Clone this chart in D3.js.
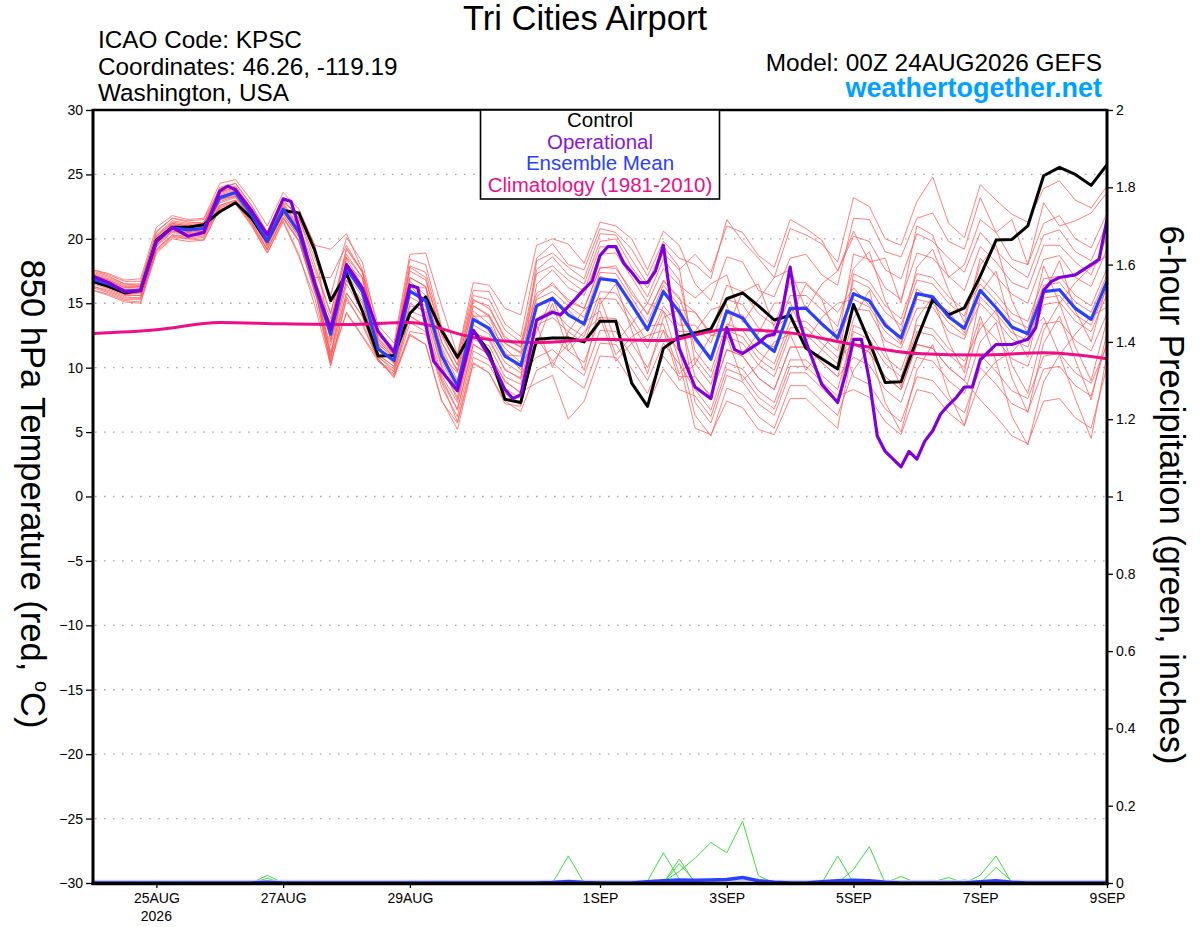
<!DOCTYPE html>
<html>
<head>
<meta charset="utf-8">
<script src="https://d3js.org/d3.v7.min.js"></script>
<style>
  body { margin: 0; background: #fff; }
  svg { display: block; }
  text { font-family: "Liberation Sans", Arial, Helvetica, sans-serif; }
</style>
</head>
<body>
<svg id="chart" width="1200" height="927"></svg>
<script>
// ---- time axis: 6-hourly steps from 00Z 24AUG2026 to 00Z 9SEP2026 (hours since start)
const hours = d3.range(0, 385, 6);
const climHours = d3.range(0, 385, 24);
const tickHours = [24, 72, 120, 192, 240, 288, 336, 384];
const tickLabels = ["25AUG", "27AUG", "29AUG", "1SEP", "3SEP", "5SEP", "7SEP", "9SEP"];
const tempTicks = [-30, -25, -20, -15, -10, -5, 0, 5, 10, 15, 20, 25, 30];
const gridTemps = [-25, -20, -15, -10, -5, 0, 5, 10, 15, 20, 25];
const precipTicks = [0, 0.2, 0.4, 0.6, 0.8, 1, 1.2, 1.4, 1.6, 1.8, 2];

// ---- 850 hPa temperature, deg C
const control = [16.7,16.3,15.8,16.0,19.9,20.9,20.9,21.1,22.1,22.8,
  21.6,19.8,22.2,22.0,19.1,15.2,17.3,14.4,10.9,10.95,
  14.2,15.5,12.9,10.8,12.9,11.2,7.55,7.3,12.2,12.3,
  12.3,12.0,13.6,13.6,8.8,7.0,11.5,12.4,12.7,13.0,
  15.35,15.8,14.8,13.7,14.05,11.5,10.7,9.9,14.9,12.0,
  8.85,8.9,12.2,15.3,14.1,14.65,17.1,19.9,19.95,21.0,
  24.9,25.55,25.0,24.15,25.75];

const ensMean = [16.85,16.5,15.95,16.0,19.8,20.86,20.7,20.8,23.2,23.6,
  21.9,19.8,22.3,20.5,16.5,12.6,17.7,15.9,11.45,10.55,
  15.95,15.2,10.95,8.6,13.75,13.05,10.9,10.15,14.8,15.4,
  14.1,13.4,16.9,16.75,14.9,12.95,15.9,14.35,12.3,10.65,
  14.4,13.85,12.2,11.25,14.6,14.6,13.4,12.3,15.75,15.2,
  13.3,12.3,15.75,15.5,13.95,13.05,16.0,14.65,13.15,12.63,
  15.9,16.05,14.6,13.75,16.7];

// operational run has 3-hourly output in places
const opHours = [0,6,12,18,24,30,36,42,48,51, 54,60,66,72,75,78,84,90,96,102,
  108,114,120,123,129,138,144,150,156,159, 162,168,174,177,183,186,189,192,195,198,
  201,204,207,210,213,216,219,222,225,228, 234,240,243,246,249,252,255,258,261,264,
  267,270,276,282,285,288,291,294,297,300, 306,309,312,315,318,321,324,327,330,333,
  336,342,348,354,357,360,363,366,372,378, 381,384];
const opTemps = [17.1,16.6,15.9,15.95,19.8,20.9,20.2,20.5,23.7,24.1, 23.8,22.2,20.3,23.1,22.9,20.9,16.5,13.0,18.0,16.2,
  12.8,11.2,16.4,16.2,10.5,8.2,12.9,10.9,8.3,7.6, 7.9,13.7,14.3,14.1,15.4,16.1,16.7,18.7,19.4,19.4,
  18.1,17.4,16.6,16.6,17.5,19.5,15.0,11.5,10.0,8.5, 7.6,13.1,11.4,11.1,11.5,11.9,12.45,12.6,14.4,17.8,
  14.0,12.0,8.7,7.3,9.5,12.2,12.2,9.0,4.7,3.5, 2.3,3.5,2.9,4.3,5.1,6.4,7.1,7.7,8.5,8.5,
  10.6,11.8,11.8,12.2,13.1,16.0,16.7,17.0,17.2,18.0, 18.4,21.5];

// climatology (1981-2010), daily at 00Z
const climatology = [12.65,12.95,13.5,13.4,13.35,13.5,12.35,11.95,12.2,12.1,12.97,12.7,11.8,11.1,10.98,11.16,10.7];

// ensemble members (thin red lines)
const ensMembers = [
  [17.5,17.1,16.5,16.4,20.6,21.6,21.3,21.2,24.0,24.3,22.6,20.5,23.0,21.6,18.5, 15.6,20.1,18.2,12.8,11.5,18.4,18.0,13.2,10.9,16.0,15.9,13.4,12.4, 18.5,19.6,18.0,17.6,20.8,20.5,19.2,17.1,19.8,18.5, 18.0,16.9,21.5,19.8,18.5,17.0,20.8,20.3,19.6,18.2, 23.2,22.5,20.0,19.5,22.9,24.8,21.2,20.1, 24.2,23.0,21.9,21.3,23.9,24.5,23.0,22.4,24.1],
  [17.2,16.8,16.2,16.3,20.2,21.2,21.0,21.1,23.6,24.0,22.3,20.3,22.8,22.0,19.5, 19.2,20.4,17.6,13.3,11.9,18.8,18.9,14.8,11.0,16.6,16.4,14.6,14.1, 19.5,20.0,19.6,18.1,21.3,21.0,20.0,17.6,20.6,19.5, 16.5,15.2,18.6,18.2,16.0,15.5,18.5,18.8,17.2,16.4, 21.6,21.5,19.0,18.6,21.6,22.0,19.8,19.2, 23.2,20.5,21.5,18.0,22.8,21.0,21.4,22.0,23.6],
  [16.6,16.3,15.7,15.8,19.5,20.6,20.5,20.6,23.1,23.3,21.6,19.5,22.0,20.6,17.0, 17.0,19.5,17.4,12.3,11.1,17.8,17.0,12.6,10.2,15.2,14.8,12.2,11.6, 17.6,18.6,17.2,16.5,19.8,20.0,17.8,16.2,18.9,17.6, 18.8,17.4,21.0,20.5,18.7,17.8,21.5,20.8,19.9,17.5, 20.6,18.2,18.5,15.0,21.0,20.3,17.0,18.0, 21.5,20.5,18.4,18.0,21.2,21.8,20.0,19.3,22.0],
  [17.6,17.3,16.8,16.9,20.9,21.8,21.5,21.6,24.3,24.6,23.0,21.0,23.6,22.3,19.5, 12.0,16.8,15.2,11.0,10.1,14.8,14.5,10.2,7.5,12.6,12.3,9.8,9.2, 16.5,17.6,16.2,15.6,18.8,18.9,17.0,15.0,17.7,16.4, 15.4,16.5,17.2,13.5,15.3,17.0,17.6,14.5,16.5,17.5, 20.2,19.8,17.6,16.9,20.4,19.8,18.5,17.4, 20.5,19.1,17.8,17.0,20.3,20.7,19.0,18.3,21.2],
  [16.3,16.0,15.5,15.4,19.2,20.3,20.2,20.3,22.6,23.0,21.3,19.2,21.6,19.8,15.8, 13.5,19.2,17.4,12.5,11.3,17.9,17.4,13.0,10.6,15.6,15.3,12.9,12.0, 15.8,16.4,15.3,14.6,17.8,17.7,16.0,14.1,16.8,15.3, 14.3,12.5,13.0,15.9,16.5,13.1,14.0,16.5,15.3,12.0, 18.8,18.4,16.2,15.3,18.9,18.5,17.1,16.0, 19.4,18.2,16.6,16.1,19.5,19.5,18.2,17.2,20.2],
  [17.0,16.6,16.1,16.1,19.9,21.0,20.8,20.9,23.3,23.7,22.0,19.9,22.4,20.7,16.9, 11.2,15.8,14.0,10.5,9.7,14.0,13.2,9.2,6.8,11.8,11.0,9.0,8.0, 13.8,14.5,13.2,12.4,15.9,15.8,13.9,12.0,14.8,13.3, 13.3,11.9,15.3,14.9,13.1,12.4,15.6,15.6,14.5,13.2, 17.7,19.0,15.2,12.8,17.8,19.2,16.0,13.5, 18.5,17.1,15.7,15.0,18.4,18.7,17.0,16.3,19.2],
  [16.0,15.7,15.2,15.1,19.0,20.1,20.0,19.9,22.4,22.8,21.1,18.9,21.3,18.6,15.4, 10.5,18.6,17.0,12.0,10.9,17.0,16.3,12.0,9.8,14.8,14.0,11.9,11.2, 17.3,17.9,16.8,15.9,19.4,19.3,17.4,15.5,18.4,16.8, 11.3,9.7,13.4,12.9,11.2,10.3,13.6,13.6,12.4,11.3, 16.8,16.2,14.3,13.3,16.8,16.5,15.0,14.0, 18.0,19.5,15.2,12.6,17.9,15.0,16.6,17.8,18.7],
  [17.3,16.9,16.4,16.4,20.2,21.3,21.1,21.2,23.6,24.0,22.3,20.2,22.7,20.9,17.0, 12.2,18.1,15.7,11.7,10.3,16.4,15.0,11.4,8.4,14.1,12.8,11.2,9.8, 12.8,15.5,12.3,9.8,14.9,16.5,12.9,9.5,13.9,14.5, 14.3,12.7,16.4,15.9,14.2,13.3,16.6,16.6,15.4,14.3, 16.2,14.8,13.6,11.9,16.1,15.2,14.4,12.7, 17.0,15.7,14.2,13.6,16.9,17.1,15.6,14.8,17.7],
  [16.6,16.2,15.7,15.6,19.5,20.6,20.4,20.5,22.9,23.3,21.6,19.5,21.9,20.2,16.3, 10.1,15.5,13.3,10.6,9.3,12.8,12.6,8.9,5.8,10.8,10.2,8.0,7.1, 11.8,15.0,11.3,12.8,13.9,10.5,11.9,12.5,12.9,9.0, 10.3,8.7,12.4,11.9,10.2,9.3,12.6,12.6,11.4,10.3, 17.3,16.7,14.8,13.8,17.3,17.0,15.5,14.5, 16.5,15.2,13.7,13.1,16.4,16.6,15.1,14.3,17.2],
  [17.1,16.7,16.2,16.2,20.0,21.1,20.9,21.0,23.4,23.8,22.1,20.0,22.5,20.7,16.8, 13.8,18.0,16.9,11.9,10.6,16.2,16.2,11.0,9.6,14.0,14.0,11.0,10.9, 15.5,16.6,15.1,14.6,17.7,17.9,15.7,14.2,16.7,15.5, 12.0,10.9,14.2,14.1,12.0,11.6,14.4,14.8,13.2,12.5, 14.6,14.4,12.1,11.5,14.6,14.7,12.8,12.2, 15.8,17.5,13.0,10.8,15.7,18.3,14.4,12.0,16.5],
  [16.3,15.9,15.4,15.4,19.2,20.3,20.1,20.2,22.6,23.0,21.3,19.2,21.7,19.9,16.0, 11.0,16.5,14.4,10.8,9.9,14.4,13.9,9.4,7.3,12.2,11.7,9.3,8.7, 14.8,15.2,14.5,13.2,17.1,16.6,15.1,12.8,16.1,14.1, 9.3,7.8,11.4,10.9,9.2,8.3,11.6,11.6,10.4,9.3, 13.8,16.0,11.3,8.5,13.8,15.5,12.0,9.6, 15.5,14.2,12.7,12.1,15.4,15.6,14.1,13.3,16.2],
  [17.4,17.0,16.5,16.5,20.3,21.4,21.2,21.3,23.7,24.1,22.4,20.3,22.8,21.0,17.6, 14.2,18.8,17.0,12.1,10.8,17.0,16.3,12.0,9.7,14.8,14.1,11.9,11.1, 13.3,13.9,12.8,11.9,15.4,15.3,13.4,11.5,14.4,12.8, 12.8,14.5,14.9,11.0,12.7,15.0,15.1,12.0,13.9,15.0, 15.3,14.7,12.8,11.8,15.3,15.0,13.5,12.5, 15.0,13.7,12.2,11.6,14.9,15.1,13.6,12.8,15.7],
  [16.8,16.4,15.9,15.9,19.7,20.8,20.6,20.7,23.1,23.5,21.8,19.7,22.2,20.4,16.5, 12.2,17.3,15.5,11.3,10.4,15.5,14.8,10.5,8.2,13.3,12.6,10.4,9.6, 10.8,11.4,10.3,9.4,12.9,12.8,10.9,9.0,11.9,10.3, 8.3,6.7,10.4,9.9,8.2,7.3,10.6,10.6,9.4,8.3, 12.8,12.2,10.3,9.3,12.8,12.5,11.0,10.0, 14.0,10.5,11.2,12.6,13.9,11.0,12.6,14.0,14.7],
  [16.0,15.6,15.1,15.0,18.9,20.0,19.8,19.9,22.3,22.7,21.0,18.9,21.4,18.8,14.8, 10.2,15.3,13.5,10.6,9.5,13.5,12.8,8.5,6.2,11.3,10.6,8.4,7.6, 12.3,10.5,11.8,13.5,14.4,11.0,12.4,13.2,13.4,9.5, 10.8,9.2,12.9,12.4,10.7,9.8,13.1,13.1,11.9,10.8, 11.8,11.2,9.3,8.3,11.8,11.5,10.0,9.0, 13.5,12.2,10.7,10.1,13.4,13.6,12.1,11.3,14.2],
  [17.6,17.2,16.7,16.7,20.5,21.6,21.4,21.5,23.9,24.3,22.6,20.5,23.0,21.6,18.0, 14.2,19.3,17.5,12.2,11.0,17.5,16.8,12.5,10.2,15.3,14.6,12.4,11.6, 15.3,15.9,14.8,13.9,17.4,17.3,15.4,13.5,16.4,14.8, 7.3,5.7,9.4,8.9,7.2,6.3,9.6,9.6,8.4,7.3, 13.3,12.7,10.8,9.8,13.3,13.0,11.5,10.5, 13.0,14.5,10.2,8.0,12.9,15.0,11.6,9.0,13.7],
  [16.5,16.1,15.6,15.6,19.4,20.5,20.3,20.4,22.8,23.2,21.5,19.4,21.9,20.1,16.2, 10.4,14.3,12.5,10.7,9.2,12.5,11.8,7.5,5.2,10.3,9.6,7.4,6.6, 9.8,10.4,9.3,8.4,11.9,11.8,9.9,8.0,10.9,9.3, 9.3,7.7,11.4,10.9,9.2,8.3,11.6,11.6,10.4,9.3, 10.8,10.2,8.3,7.3,10.8,10.5,9.0,8.0, 12.0,13.5,9.2,6.5,11.9,14.0,10.6,7.5,12.7],
  [16.7,16.6,15.8,16.2,19.6,21.2,20.5,21.0,23.0,23.8,21.7,20.0,22.1,20.8,16.9, 13.0,18.5,16.3,11.8,10.8,16.7,15.6,11.6,9.0,14.4,13.4,11.5,10.4, 11.8,12.4,11.3,10.4,13.9,13.8,11.9,10.0,12.9,11.3, 6.3,4.7,8.4,7.9,6.2,5.3,8.6,8.6,7.4,6.3, 9.8,11.5,7.3,5.0,9.8,11.8,8.0,5.5, 11.0,9.7,8.2,7.6,10.9,11.1,9.6,8.8,11.7],
  [16.2,15.8,15.3,15.3,19.1,20.2,20.0,20.1,22.5,22.9,21.2,19.1,21.6,19.8,15.9, 11.7,16.8,15.0,11.0,10.1,15.0,14.3,10.0,7.7,12.8,12.1,9.9,9.1, 18.3,18.9,17.8,16.9,20.4,20.3,18.4,16.5,19.4,17.8, 10.3,12.5,12.4,9.0,10.2,12.0,12.6,9.8,11.4,13.0, 9.3,8.7,6.8,5.8,9.3,9.0,7.5,6.5, 10.0,8.7,7.2,6.6,9.9,10.1,8.6,7.8,12.0],
  [17.2,16.8,16.3,16.3,20.1,21.2,21.0,21.1,23.5,23.9,22.2,20.1,22.6,20.8,16.9, 10.7,15.8,14.0,10.9,9.7,14.0,13.3,9.0,6.7,11.8,11.1,8.9,8.1, 8.8,9.4,6.0,7.4,10.9,10.8,8.9,7.0,9.9,8.3, 7.8,6.2,9.9,9.4,7.7,6.8,10.1,10.1,8.9,7.8, 8.3,7.7,5.8,4.8,8.3,8.0,6.5,5.5, 9.0,10.5,6.2,4.0,8.9,11.0,7.6,4.5,11.0],
  [16.7,16.3,15.8,15.8,19.6,20.7,20.5,20.6,23.0,23.4,21.7,19.6,22.1,20.3,16.4, 10.9,14.2,12.4,10.5,9.4,12.6,11.8,7.4,5.7,10.4,9.6,7.2,7.0, 13.3,10.0,12.8,14.5,15.4,12.0,13.4,15.0,14.4,10.5, 5.3,4.8,7.4,6.9,5.2,4.8,7.6,7.6,6.4,5.3, 11.8,11.2,9.3,8.3,11.8,11.5,10.0,9.0, 7.5,6.2,4.7,4.1,7.4,7.6,6.1,5.3,10.1]
];

// ---- 6-hour precipitation, inches
const precipMean = [
  0,0,0,0,0,0,0,0,0,0,
  0,0.002,0,0,0,0,0,0,0,0,
  0,0,0,0,0,0,0,0,0,0.001,
  0.004,0.001,0,0,0,0.003,0.006,0.008,0.007,0.008,
  0.009,0.014,0.006,0.002,0,0,0.003,0.006,0.007,0.006,
  0.002,0,0,0,0,0,0.003,0.006,0.002,0,
  0,0,0,0,0];

const precipMembers = [
  [0,0,0,0,0,0,0,0,0,0, 0,0.02,0,0,0,0,0,0,0,0, 0,0,0,0,0,0,0,0,0,0, 0,0,0,0,0,0,0,0,0,0, 0,0,0,0,0,0,0,0,0,0, 0,0,0,0,0,0,0,0,0,0, 0,0,0,0,0],
  [0,0,0,0,0,0,0,0,0,0, 0,0.012,0,0,0,0,0,0,0,0, 0,0,0,0,0,0,0,0,0,0, 0,0,0,0,0,0,0,0,0,0, 0,0,0,0,0,0,0,0,0,0, 0,0,0,0,0,0.008,0,0,0,0, 0,0,0,0,0],
  [0,0,0,0,0,0,0,0,0,0, 0,0,0,0,0,0,0,0,0,0, 0,0,0,0,0,0,0,0,0,0, 0.07,0,0,0,0,0,0,0,0,0, 0,0,0,0,0,0,0,0,0,0, 0,0,0,0,0,0,0,0,0,0, 0,0,0,0,0],
  [0,0,0,0,0,0,0,0,0,0, 0,0,0,0,0,0,0,0,0,0, 0,0,0,0,0,0,0,0,0,0, 0,0,0,0,0,0.005,0.078,0.01,0,0, 0,0,0,0,0,0,0,0,0,0, 0,0,0,0,0,0,0,0,0,0, 0,0,0,0,0],
  [0,0,0,0,0,0,0,0,0,0, 0,0,0,0,0,0,0,0,0,0, 0,0,0,0,0,0,0,0,0,0, 0,0,0,0,0,0,0,0.062,0,0, 0,0,0,0,0,0,0,0,0,0, 0,0,0,0,0,0,0,0,0,0, 0,0,0,0,0],
  [0,0,0,0,0,0,0,0,0,0, 0,0,0,0,0,0,0,0,0,0, 0,0,0,0,0,0,0,0,0,0, 0,0,0,0,0,0,0,0.05,0.004,0, 0,0,0,0,0,0,0,0,0,0, 0,0,0,0,0,0,0,0,0,0, 0,0,0,0,0],
  [0,0,0,0,0,0,0,0,0,0, 0,0,0,0,0,0,0,0,0,0, 0,0,0,0,0,0,0,0,0,0, 0,0,0,0,0,0,0.003,0.03,0.064,0.105, 0.078,0.16,0.019,0,0,0,0,0,0,0, 0,0,0,0,0,0,0,0,0,0, 0,0,0,0,0],
  [0,0,0,0,0,0,0,0,0,0, 0,0,0,0,0,0,0,0,0,0, 0,0,0,0,0,0,0,0,0,0, 0,0,0,0,0,0,0,0,0,0, 0,0,0,0,0,0,0,0.07,0,0, 0,0,0,0,0,0,0,0,0,0, 0,0,0,0,0],
  [0,0,0,0,0,0,0,0,0,0, 0,0,0,0,0,0,0,0,0,0, 0,0,0,0,0,0,0,0,0,0, 0,0,0,0,0,0,0,0,0,0, 0,0,0,0,0,0,0,0,0.035,0.094, 0,0,0,0,0,0,0,0,0,0, 0,0,0,0,0],
  [0,0,0,0,0,0,0,0,0,0, 0,0,0,0,0,0,0,0,0,0, 0,0,0,0,0,0,0,0,0,0, 0,0,0,0,0,0,0,0,0,0, 0,0,0,0,0,0,0,0,0,0, 0,0.017,0,0.003,0.014,0,0,0,0,0, 0,0,0,0,0],
  [0,0,0,0,0,0,0,0,0,0, 0,0,0,0,0,0,0,0,0,0, 0,0,0,0,0,0,0,0,0,0, 0,0,0,0,0,0,0,0,0,0, 0,0,0,0,0,0,0,0,0,0, 0,0,0,0,0,0,0.02,0.07,0,0, 0,0,0,0,0],
  [0,0,0,0,0,0,0,0,0,0, 0,0,0,0,0,0,0,0,0,0, 0,0,0,0,0,0,0,0,0,0, 0,0,0,0,0,0,0,0,0,0, 0,0,0,0,0,0,0,0,0,0, 0,0,0,0,0,0,0,0.04,0.004,0, 0,0,0,0,0]
];

const legendItems = [
  { label: "Control", color: "#000000" },
  { label: "Operational", color: "#8a14dc" },
  { label: "Ensemble Mean", color: "#2a40ff" },
  { label: "Climatology (1981-2010)", color: "#ec0f86" }
];

// ---- layout (plot box in pixels)
const plotL = 93, plotR = 1107, plotT = 110, plotB = 883;

const x = d3.scaleLinear().domain([0, 384]).range([plotL, plotR]);
const yT = d3.scaleLinear().domain([-30, 30]).range([plotB, plotT]);
const yP = d3.scaleLinear().domain([0, 2]).range([plotB, plotT]);

const svg = d3.select("#chart");
svg.append("rect").attr("width", 1200).attr("height", 927).attr("fill", "#fff");

svg.append("clipPath").attr("id", "plotclip")
  .append("rect").attr("x", plotL).attr("y", plotT).attr("width", plotR - plotL).attr("height", plotB - plotT);

// dotted gridlines
svg.append("g").selectAll("line").data(gridTemps).join("line")
  .attr("x1", plotL + 2).attr("x2", plotR - 2)
  .attr("y1", d => yT(d)).attr("y2", d => yT(d))
  .attr("stroke", "#a8a8a8").attr("stroke-width", 1.4)
  .attr("stroke-dasharray", "1.6,7.4");

const plot = svg.append("g").attr("clip-path", "url(#plotclip)");

const tempLine = d3.line().x((d, i) => x(hours[i])).y(d => yT(d));
const precipLine = d3.line().x((d, i) => x(hours[i])).y(d => yP(d));

// ensemble members
plot.append("g").selectAll("path").data(ensMembers).join("path")
  .attr("d", tempLine)
  .attr("fill", "none")
  .attr("stroke", "#ff5a5a")
  .attr("stroke-opacity", 0.85)
  .attr("stroke-width", 0.9);

// precipitation members + mean
plot.append("g").selectAll("path").data(precipMembers).join("path")
  .attr("d", precipLine)
  .attr("fill", "none")
  .attr("stroke", "#3fdc3f")
  .attr("stroke-width", 1);

plot.append("line")
  .attr("x1", plotL).attr("x2", plotR)
  .attr("y1", yP(0) - 2.5).attr("y2", yP(0) - 2.5)
  .attr("stroke", "#c9cde8").attr("stroke-width", 1.5);

plot.append("path").datum(precipMean)
  .attr("d", precipLine)
  .attr("fill", "none")
  .attr("stroke", "#2a40ff")
  .attr("stroke-width", 3.5);

// control
plot.append("path").datum(control)
  .attr("d", tempLine)
  .attr("fill", "none")
  .attr("stroke", "#000")
  .attr("stroke-width", 3)
  .attr("stroke-linejoin", "round");

// climatology
plot.append("path").datum(climatology)
  .attr("d", d3.line().curve(d3.curveMonotoneX).x((d, i) => x(climHours[i])).y(d => yT(d)))
  .attr("fill", "none")
  .attr("stroke", "#ec0f86")
  .attr("stroke-width", 3);

// ensemble mean
plot.append("path").datum(ensMean)
  .attr("d", tempLine)
  .attr("fill", "none")
  .attr("stroke", "#2a40ff")
  .attr("stroke-width", 3.2)
  .attr("stroke-linejoin", "round");

// operational
plot.append("path").datum(opTemps)
  .attr("d", d3.line().x((d, i) => x(opHours[i])).y(d => yT(d)))
  .attr("fill", "none")
  .attr("stroke", "#8000dc")
  .attr("stroke-width", 3.2)
  .attr("stroke-linejoin", "round");

// ---- axes
const fontFam = '"Liberation Sans", Arial, Helvetica, sans-serif';

svg.append("g").attr("transform", `translate(${plotL},0)`)
  .call(d3.axisLeft(yT).tickValues(tempTicks).tickSize(7).tickPadding(3))
  .attr("font-size", 14).attr("font-family", fontFam)
  .call(g => g.select(".domain").remove())
  .call(g => g.selectAll(".tick line").attr("stroke", "#000").attr("stroke-width", 1.3))
  .call(g => g.selectAll(".tick text").attr("fill", "#000"));

svg.append("g").attr("transform", `translate(${plotR},0)`)
  .call(d3.axisRight(yP).tickValues(precipTicks).tickSize(6).tickPadding(3).tickFormat(d3.format("~g")))
  .attr("font-size", 14).attr("font-family", fontFam)
  .call(g => g.select(".domain").remove())
  .call(g => g.selectAll(".tick line").attr("stroke", "#000").attr("stroke-width", 1.3))
  .call(g => g.selectAll(".tick text").attr("fill", "#000"));

svg.append("g").attr("transform", `translate(0,${plotB})`)
  .call(d3.axisBottom(x).tickValues(tickHours).tickSize(5).tickPadding(5).tickFormat((d, i) => tickLabels[i]))
  .attr("font-size", 14).attr("font-family", fontFam)
  .call(g => g.select(".domain").remove())
  .call(g => g.selectAll(".tick line").attr("stroke", "#000").attr("stroke-width", 1.3))
  .call(g => g.selectAll(".tick text").attr("fill", "#000"));

svg.append("text")
  .attr("x", x(tickHours[0])).attr("y", 921)
  .attr("text-anchor", "middle").attr("font-size", 14)
  .text("2026");

// frame
svg.append("line").attr("x1", plotL - 1).attr("x2", plotR + 1).attr("y1", plotT).attr("y2", plotT)
  .attr("stroke", "#000").attr("stroke-width", 2.5);
svg.append("line").attr("x1", plotL).attr("x2", plotL).attr("y1", plotT - 1).attr("y2", plotB + 2)
  .attr("stroke", "#000").attr("stroke-width", 3);
svg.append("line").attr("x1", plotR).attr("x2", plotR).attr("y1", plotT - 1).attr("y2", plotB + 2)
  .attr("stroke", "#000").attr("stroke-width", 3);
svg.append("line").attr("x1", plotL - 1.5).attr("x2", plotR + 1.5).attr("y1", plotB + 0.5).attr("y2", plotB + 0.5)
  .attr("stroke", "#000").attr("stroke-width", 3.5);

// ---- legend
const legend = svg.append("g");
legend.append("rect")
  .attr("x", 480.5).attr("y", 110).attr("width", 239).attr("height", 89)
  .attr("fill", "#fff").attr("stroke", "#000").attr("stroke-width", 1.6);
legend.selectAll("text").data(legendItems).join("text")
  .attr("x", 600)
  .attr("y", (d, i) => 127 + i * 21.5)
  .attr("text-anchor", "middle")
  .attr("font-size", 20.5)
  .attr("fill", d => d.color)
  .text(d => d.label);

// ---- titles and header
svg.append("text").attr("x", 585).attr("y", 30).attr("text-anchor", "middle")
  .attr("font-size", 34.5).text("Tri Cities Airport");

const infoLines = ["ICAO Code: KPSC", "Coordinates: 46.26, -119.19", "Washington, USA"];
svg.append("g").selectAll("text").data(infoLines).join("text")
  .attr("x", 98).attr("y", (d, i) => 48 + i * 26.5)
  .attr("font-size", 24.3).text(d => d);

svg.append("text").attr("x", 1102).attr("y", 71).attr("text-anchor", "end")
  .attr("font-size", 24.4).text("Model: 00Z 24AUG2026 GEFS");
svg.append("text").attr("x", 1102).attr("y", 97).attr("text-anchor", "end")
  .attr("font-size", 27).attr("font-weight", "bold").attr("fill", "#00a2ff")
  .text("weathertogether.net");

// axis titles read top to bottom on both sides
const lt = svg.append("text")
  .attr("transform", "translate(21,494) rotate(90)")
  .attr("text-anchor", "middle").attr("font-size", 34.5);
lt.append("tspan").text("850 hPa Temperature (red, ");
lt.append("tspan").attr("font-size", 20).attr("dy", -14).text("o");
lt.append("tspan").attr("dy", 14).text("C)");

svg.append("text")
  .attr("transform", "translate(1160,495) rotate(90)")
  .attr("text-anchor", "middle").attr("font-size", 34.5)
  .text("6-hour Precipitation (green, inches)");
</script>
</body>
</html>
